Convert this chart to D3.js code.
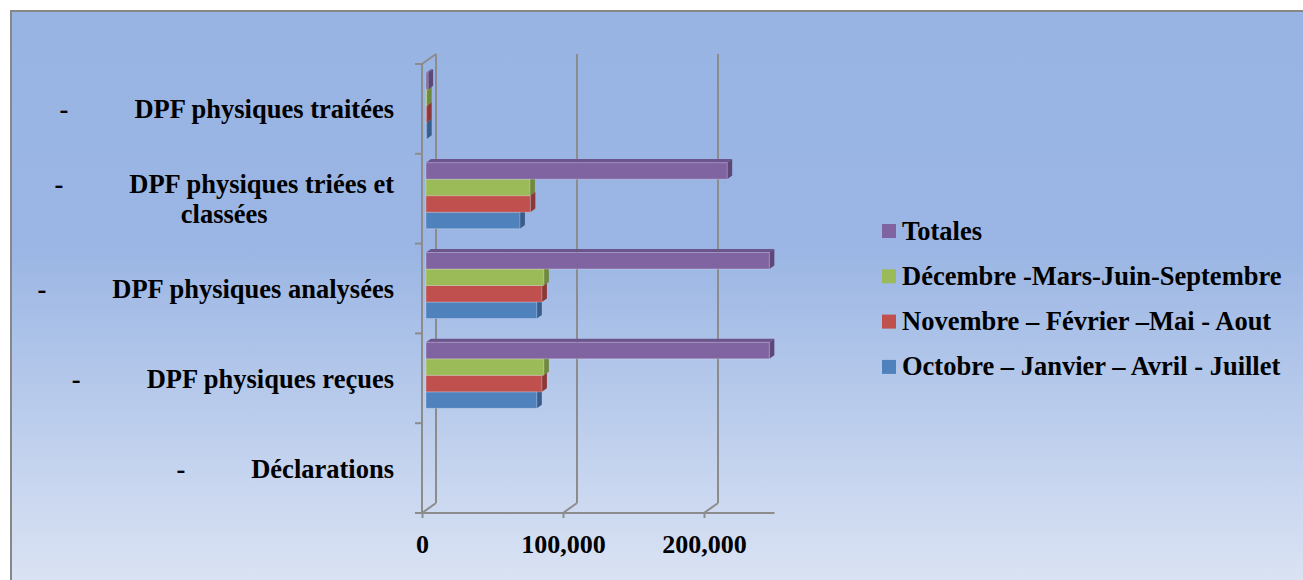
<!DOCTYPE html>
<html>
<head>
<meta charset="utf-8">
<script src="https://cdn.jsdelivr.net/npm/d3@7"></script>
<style>
  html, body { margin: 0; padding: 0; background: #fff; }
  svg { display: block; }
</style>
</head>
<body>
<div id="chart"></div>
<script>
// categories, bottom to top as in the sheet
var categories = ["Déclarations", "DPF physiques reçues", "DPF physiques analysées",
                  "DPF physiques triées et classées", "DPF physiques traitées"];

var series = ["Octobre – Janvier – Avril - Juillet", "Novembre – Février –Mai - Aout",
              "Décembre -Mars-Juin-Septembre", "Totales"];

// values per series, same order as categories
var octobre  = [0, 78600, 78600, 66600, 500];
var novembre = [0, 82200, 82200, 74000, 500];
var decembre = [0, 83600, 83600, 73700, 500];
var totales  = [0, 243500, 243500, 213600, 1500];

var xTicks = [0, 100000, 200000];
var xMax = 250000;

var colors = ["#4f81bd", "#c0504d", "#9bbb59", "#8064a2"];
var sideColors = ["#385d8a", "#8c3836", "#71893f", "#5c4776"];
var topColors = ["#4471a8", "#a94442", "#88a64d", "#6c558c"];

var values = [octobre, novembre, decembre, totales];

var FONT = "'Liberation Serif', 'Times New Roman', Tinos, 'Nimbus Roman', 'FreeSerif', 'Noto Serif', 'DejaVu Serif', serif";

var W = 1303, H = 580;
var X0 = 422, Ytop = 64, Ybot = 513;   // front plane of the plot
var DX = 14, DY = -10;                  // depth of the back wall
var BX = 4, BY = -3;                    // bars sit a little behind the front
var bdx = 5, bdy = -3.6;                // depth of each bar

var svg = d3.select("#chart").append("svg")
    .attr("width", W).attr("height", H)
    .attr("font-family", FONT).attr("font-weight", "bold");

// background gradient
var grad = svg.append("defs").append("linearGradient")
    .attr("id", "bg").attr("x1", 0).attr("y1", 0).attr("x2", 0).attr("y2", 1);
grad.append("stop").attr("offset", "0%").attr("stop-color", "#98b4e3");
grad.append("stop").attr("offset", "40%").attr("stop-color", "#9bb6e4");
grad.append("stop").attr("offset", "100%").attr("stop-color", "#e0e7f5");

svg.append("rect")
    .attr("x", 11).attr("y", 11).attr("width", W + 20).attr("height", H + 20)
    .attr("fill", "url(#bg)")
    .attr("stroke", "#878787").attr("stroke-width", 2);

var x = d3.scaleLinear().domain([0, xMax]).range([0, 352.5]);

var catTop = categories.slice().reverse();
var y = d3.scaleBand().domain(catTop).range([Ytop, Ybot]).padding(0);
var ySub = d3.scaleBand().domain(series.slice().reverse())
    .range([0, y.bandwidth()]).paddingInner(0).paddingOuter(0.72);

var gridColor = "#8c8c8c";
var grid = svg.append("g").attr("stroke", gridColor).attr("stroke-width", 2).attr("fill", "none");

// front left edge + top bevel
grid.append("line").attr("x1", X0).attr("y1", Ytop).attr("x2", X0).attr("y2", Ybot);
grid.append("line").attr("x1", X0).attr("y1", Ytop).attr("x2", X0 + DX).attr("y2", Ytop + DY);

// back wall grid lines
xTicks.forEach(function(t) {
    var xx = X0 + x(t);
    grid.append("line").attr("x1", xx + DX).attr("y1", Ytop + DY).attr("x2", xx + DX).attr("y2", Ybot + DY);
    grid.append("line").attr("x1", xx).attr("y1", Ybot).attr("x2", xx + DX).attr("y2", Ybot + DY);
});

// left ticks at band boundaries
catTop.forEach(function(c) {
    grid.append("line").attr("x1", X0 - 7).attr("y1", y(c)).attr("x2", X0).attr("y2", y(c));
});
grid.append("line").attr("x1", X0 - 7).attr("y1", Ybot).attr("x2", X0 + x(xMax)).attr("y2", Ybot);

// bottom axis
var xAxis = svg.append("g")
    .attr("transform", "translate(" + X0 + "," + Ybot + ")")
    .call(d3.axisBottom(x).tickValues(xTicks).tickSize(5).tickSizeOuter(0)
        .tickFormat(d3.format(",")));
xAxis.attr("font-family", FONT).attr("font-size", 26);
xAxis.select(".domain").remove();
xAxis.selectAll(".tick line").attr("stroke", gridColor).attr("stroke-width", 2);
xAxis.selectAll(".tick text")
    .attr("y", 40).attr("dy", 0)
    .attr("font-weight", "bold").attr("fill", "#000");

// bars, drawn bottom series first so upper bars cover the lower tops
var bars = svg.append("g");
series.forEach(function(s, si) {
    categories.forEach(function(c, ci) {
        var v = values[si][ci];
        if (!v) return;
        var x1 = X0 + BX, x2 = X0 + BX + x(v);
        var y1 = y(c) + ySub(s) + BY, h = ySub.bandwidth();
        bars.append("polygon")
            .attr("points", [[x1, y1], [x1 + bdx, y1 + bdy], [x2 + bdx, y1 + bdy], [x2, y1]].join(" "))
            .attr("fill", topColors[si]);
        bars.append("polygon")
            .attr("points", [[x2, y1], [x2 + bdx, y1 + bdy], [x2 + bdx, y1 + h + bdy], [x2, y1 + h]].join(" "))
            .attr("fill", sideColors[si]);
        bars.append("rect")
            .attr("x", x1).attr("y", y1).attr("width", x2 - x1).attr("height", h)
            .attr("fill", colors[si])
            .attr("stroke", "rgba(255,255,255,0.25)").attr("stroke-width", 1);
    });
});

// category labels: dash, a wide gap, then the name; wrapped and centred like Excel
var labelRight = 394, gap = 66, lineH = 30, maxW = 380;
var labels = svg.append("g").attr("font-size", 26.5).attr("fill", "#000");
catTop.forEach(function(c) {
    var words = c.split(" ");
    var probe = labels.append("text").text("-");
    var dashW = probe.node().getComputedTextLength();
    var lines = [], cur = [];
    words.forEach(function(w) {
        var trial = cur.concat([w]).join(" ");
        probe.text(trial);
        var tw = probe.node().getComputedTextLength() + (lines.length ? 0 : dashW + gap);
        if (tw > maxW && cur.length) { lines.push(cur.join(" ")); cur = [w]; }
        else cur.push(w);
    });
    lines.push(cur.join(" "));
    probe.remove();

    var cy = y(c) + y.bandwidth() / 2;
    var base = cy + 9.5 - (lines.length - 1) * lineH / 2;
    var left = labelRight;
    lines.forEach(function(l, i) {
        var t = labels.append("text").attr("y", base + i * lineH).text(l);
        if (i === 0) {
            t.attr("x", labelRight).attr("text-anchor", "end");
            left = labelRight - t.node().getComputedTextLength() - gap - dashW;
            labels.append("text").attr("x", left).attr("y", base).text("-");
        } else {
            t.attr("x", (left + labelRight) / 2).attr("text-anchor", "middle");
        }
    });
});

// legend
var legend = svg.append("g").attr("transform", "translate(882,231)")
    .attr("font-size", 26.5).attr("fill", "#000");
series.slice().reverse().forEach(function(s, i) {
    var si = series.indexOf(s);
    var row = legend.append("g").attr("transform", "translate(0," + (i * 45.3) + ")");
    row.append("rect").attr("x", 0).attr("y", -7).attr("width", 14).attr("height", 14)
        .attr("fill", colors[si]);
    row.append("text").attr("x", 20).attr("y", 8.5).text(s);
});
</script>
</body>
</html>
